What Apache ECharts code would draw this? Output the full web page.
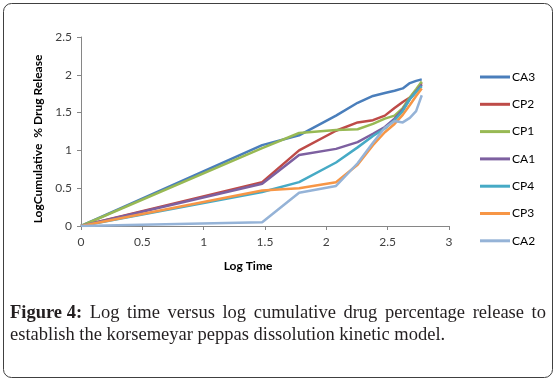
<!DOCTYPE html>
<html>
<head>
<meta charset="utf-8">
<script src="https://cdn.jsdelivr.net/npm/echarts@6/dist/echarts.min.js"></script>
<style>
  html, body { margin: 0; padding: 0; background: #fff; }
  #chart { width: 556px; height: 381px; }
</style>
</head>
<body>
<div id="chart"></div>
<script>
var logTime = [0, 1.477, 1.778, 2.079, 2.255, 2.380, 2.477, 2.556, 2.623, 2.681, 2.732, 2.778];

var CA3 = [0, 1.07, 1.20, 1.46, 1.63, 1.72, 1.76, 1.79, 1.82, 1.89, 1.92, 1.94];
var CP2 = [0, 0.58, 1.00, 1.26, 1.37, 1.40, 1.46, 1.56, 1.64, 1.70, 1.79, 1.89];
var CP1 = [0, 1.03, 1.23, 1.27, 1.28, 1.35, 1.42, 1.46, 1.56, 1.70, 1.81, 1.91];
var CA1 = [0, 0.56, 0.94, 1.02, 1.11, 1.22, 1.31, 1.42, 1.54, 1.68, 1.78, 1.87];
var CP4 = [0, 0.45, 0.58, 0.84, 1.04, 1.19, 1.29, 1.40, 1.52, 1.68, 1.77, 1.85];
var CP3 = [0, 0.47, 0.50, 0.58, 0.81, 1.07, 1.24, 1.35, 1.47, 1.60, 1.72, 1.82];
var CA2 = [0, 0.05, 0.44, 0.53, 0.83, 1.10, 1.30, 1.39, 1.37, 1.43, 1.52, 1.73];

var seriesNames = ['CA3', 'CP2', 'CP1', 'CA1', 'CP4', 'CP3', 'CA2'];
var seriesData = [CA3, CP2, CP1, CA1, CP4, CP3, CA2];
var colors = ['#4a7ebb', '#be4b48', '#98b954', '#7d60a0', '#46aac5', '#f79646', '#95b3d7'];

var captionLine1 = ['Figure 4:', 'Log', 'time', 'versus', 'log', 'cumulative', 'drug', 'percentage', 'release', 'to'];
var captionLine2 = 'establish the korsemeyar peppas dissolution kinetic model.';

function pairs(ys) {
    return logTime.map(function (x, i) { return [x, ys[i]]; });
}

var chart = echarts.init(document.getElementById('chart'));

var series = seriesNames.map(function (name, i) {
    return {
        name: name,
        type: 'line',
        data: pairs(seriesData[i]),
        showSymbol: false,
        symbol: 'none',
        lineStyle: { color: colors[i], width: 2.5 },
        itemStyle: { color: colors[i] }
    };
});

// justified first caption line
var capFont = '18.5px "Liberation Serif"';
var capBold = 'bold 18.5px "Liberation Serif"';
var ctx = document.createElement('canvas').getContext('2d');
var widths = captionLine1.map(function (w, i) {
    ctx.font = i === 0 ? capBold : capFont;
    return ctx.measureText(w).width;
});
var lineLeft = 10, lineRight = 546;
var used = widths.reduce(function (a, b) { return a + b; }, 0);
var gap = (lineRight - lineLeft - used) / (captionLine1.length - 1);
var captionTexts = [];
var cx = lineLeft;
captionLine1.forEach(function (w, i) {
    captionTexts.push({
        type: 'text', x: cx, y: 313,
        style: { text: w, font: i === 0 ? capBold : capFont, fill: '#231f20', verticalAlign: 'middle' }
    });
    cx += widths[i] + gap;
});
captionTexts.push({
    type: 'text', x: lineLeft, y: 335,
    style: { text: captionLine2, font: capFont, fill: '#231f20', verticalAlign: 'middle' }
});

var option = {
    animation: false,
    backgroundColor: '#fff',
    grid: { left: 81, right: 107, top: 37, bottom: 155 },
    legend: {
        orient: 'vertical',
        left: 475,
        top: 65,
        itemWidth: 30,
        itemHeight: 3,
        itemGap: 13.3,
        icon: 'rect',
        data: seriesNames,
        textStyle: { fontFamily: 'Lato', fontSize: 12, color: '#000', lineHeight: 14, padding: [0, 0, 0, -3] }
    },
    xAxis: {
        type: 'value',
        min: 0, max: 3, interval: 0.5,
        axisLine: { show: true, lineStyle: { color: '#868686', width: 1 } },
        axisTick: { show: true, length: 4, lineStyle: { color: '#868686' } },
        splitLine: { show: false },
        axisLabel: { fontFamily: 'Lato', fontSize: 12, color: '#404040', margin: 10 }
    },
    yAxis: {
        type: 'value',
        min: 0, max: 2.5, interval: 0.5,
        axisLine: { show: true, lineStyle: { color: '#868686', width: 1 } },
        axisTick: { show: true, length: 4, lineStyle: { color: '#868686' } },
        splitLine: { show: false },
        axisLabel: { fontFamily: 'Lato', fontSize: 12, color: '#404040', margin: 9 }
    },
    graphic: [
        {
            type: 'rect',
            shape: { x: 3.5, y: 3.5, width: 549, height: 374, r: 8 },
            style: { fill: 'none', stroke: '#404040', lineWidth: 1 },
            silent: true
        },
        {
            type: 'text',
            x: 248, y: 266,
            style: {
                text: 'Log Time', font: 'bold 12px Lato', fill: '#000',
                align: 'center', verticalAlign: 'middle'
            }
        },
        {
            type: 'text',
            x: 38, y: 139,
            rotation: Math.PI / 2,
            style: {
                text: 'LogCumulative  % Drug Release', font: 'bold 12px Lato', fill: '#000',
                align: 'center', verticalAlign: 'middle'
            }
        }
    ].concat(captionTexts),
    series: series
};

chart.setOption(option);
</script>
</body>
</html>
